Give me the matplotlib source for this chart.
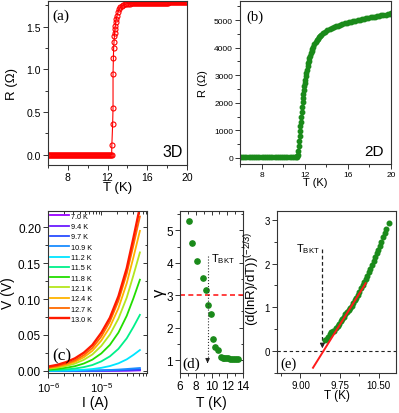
import matplotlib
matplotlib.use("Agg")
import matplotlib.pyplot as plt
from matplotlib.ticker import MultipleLocator, LogLocator, NullFormatter, FixedLocator

plt.rcParams['font.family'] = ['Liberation Sans', 'DejaVu Sans']
plt.rcParams['mathtext.fontset'] = 'custom'
plt.rcParams['mathtext.rm'] = 'Liberation Sans'
plt.rcParams['mathtext.it'] = 'Liberation Sans:italic'

# ---------------- data ----------------
# (a) 3D resistance
T_a = [6.0, 6.1, 6.2, 6.3, 6.4, 6.5, 6.6, 6.7, 6.8, 6.9, 7.0, 7.1, 7.2, 7.3, 7.4, 7.5,
       7.6, 7.7, 7.8, 7.9, 8.0, 8.1, 8.2, 8.3, 8.4, 8.5, 8.6, 8.7, 8.8, 8.9, 9.0, 9.1,
       9.2, 9.3, 9.4, 9.5, 9.6, 9.7, 9.8, 9.9, 10.0, 10.1, 10.2, 10.3, 10.4, 10.5, 10.6,
       10.7, 10.8, 10.9, 11.0, 11.1, 11.2, 11.3, 11.4, 11.5, 11.6, 11.7, 11.8, 11.9, 12.0,
       12.1, 12.2, 12.3, 12.41,
       12.43, 12.51, 12.55, 12.55, 12.58, 12.61, 12.65, 12.68, 12.71, 12.75, 12.78, 12.81,
       12.88, 12.95, 13.05, 13.18, 13.3, 13.42, 13.6, 13.76, 13.9, 14.05, 14.27,
       14.4, 14.5, 14.6, 14.7, 14.8, 14.9, 15.0, 15.1, 15.2, 15.3, 15.4, 15.5,
       15.6, 15.7, 15.8, 15.9, 16.0, 16.1, 16.2, 16.3, 16.4, 16.5, 16.6, 16.7,
       16.8, 16.9, 17.0, 17.1, 17.2, 17.3, 17.4, 17.5, 17.6, 17.7, 17.8, 17.9,
       18.0, 18.1, 18.2, 18.3, 18.4, 18.5, 18.6, 18.7, 18.8, 18.9, 19.0, 19.1,
       19.2, 19.3, 19.4, 19.5, 19.6, 19.7, 19.8, 19.9, 20.0]
R_a = [0.0, 0.0, 0.0, 0.0, 0.0, 0.0, 0.0, 0.0, 0.0, 0.0, 0.0, 0.0, 0.0, 0.0, 0.0, 0.0,
       0.0, 0.0, 0.0, 0.0, 0.0, 0.0, 0.0, 0.0, 0.0, 0.0, 0.0, 0.0, 0.0, 0.0, 0.0, 0.0,
       0.0, 0.0, 0.0, 0.0, 0.0, 0.0, 0.0, 0.0, 0.0, 0.0, 0.0, 0.0, 0.0, 0.0, 0.0,
       0.0, 0.0, 0.0, 0.0, 0.0, 0.0, 0.0, 0.0, 0.0, 0.0, 0.0, 0.0, 0.0, 0.0,
       0.0, 0.0, 0.0, 0.0,
       0.11, 0.355, 0.55, 0.95, 1.13, 1.25, 1.325, 1.39, 1.43, 1.47, 1.51, 1.55,
       1.59, 1.63, 1.67, 1.71, 1.73, 1.74, 1.752, 1.76, 1.765, 1.768, 1.77,
       1.772, 1.773, 1.774, 1.775, 1.776, 1.776, 1.777, 1.777, 1.778, 1.778, 1.778, 1.779,
       1.779, 1.779, 1.78, 1.78, 1.78, 1.78, 1.78, 1.78, 1.78, 1.78, 1.781, 1.781,
       1.781, 1.781, 1.781, 1.781, 1.781, 1.781, 1.782, 1.782, 1.782, 1.782, 1.782, 1.782,
       1.782, 1.782, 1.783, 1.783, 1.783, 1.783, 1.783, 1.783, 1.783, 1.783, 1.784, 1.784,
       1.784, 1.784, 1.784, 1.784, 1.785, 1.785, 1.785, 1.785, 1.785]

# (b) 2D resistance
T_b = [6.0, 6.2, 6.4, 6.6, 6.8, 7.0, 7.2, 7.4, 7.6, 7.8, 8.0, 8.2, 8.4, 8.6, 8.8, 9.0,
       9.2, 9.4, 9.6, 9.8, 10.0, 10.2, 10.4, 10.6, 10.8, 11.0, 11.2, 11.28, 11.32, 11.36,
       11.40, 11.44, 11.48, 11.52, 11.56, 11.60, 11.64, 11.68, 11.72, 11.76, 11.80, 11.84,
       11.88, 11.92, 11.96, 12.00, 12.05, 12.10, 12.15, 12.20, 12.26, 12.32, 12.38, 12.44,
       12.50, 12.57, 12.64, 12.72, 12.80, 12.90, 13.00, 13.10, 13.20, 13.30, 13.40, 13.50,
       13.7, 13.9, 14.1, 14.3, 14.5, 14.7, 14.9, 15.1, 15.3, 15.5, 15.7, 15.9, 16.1, 16.3,
       16.5, 16.7, 16.9, 17.1, 17.3, 17.5, 17.7, 17.9, 18.1, 18.3, 18.5, 18.7, 18.9, 19.1,
       19.3, 19.5, 19.7, 19.9, 20.0]
R_b = [30, 30, 30, 30, 30, 30, 30, 30, 30, 30, 30, 30, 30, 30, 30, 30,
       30, 30, 30, 30, 30, 30, 30, 30, 30, 30, 32, 35, 60, 120,
       250, 430, 600, 780, 960, 1140, 1320, 1500, 1680, 1850, 2020, 2180,
       2330, 2470, 2590, 2700, 2840, 2970, 3090, 3200, 3320, 3430, 3530, 3620,
       3710, 3800, 3880, 3960, 4040, 4120, 4200, 4260, 4320, 4380, 4430, 4470,
       4530, 4580, 4630, 4670, 4710, 4740, 4770, 4800, 4830, 4855, 4880, 4900, 4920, 4940,
       4960, 4980, 5000, 5015, 5030, 5050, 5065, 5080, 5095, 5110, 5125, 5140, 5155, 5170,
       5185, 5200, 5215, 5235, 5250]

# (c) V-I curves
I_c = [1.0e-6, 1.5e-6, 2.2e-6, 3.2e-6, 4.7e-6, 6.8e-6, 1.0e-5, 1.45e-5, 2.1e-5, 3.0e-5, 4.0e-5, 5.3e-5]
temps_c = ['7.0 K', '9.4 K', '9.7 K', '10.9 K', '11.2 K', '11.5 K', '11.8 K',
           '12.1 K', '12.4 K', '12.7 K', '13.0 K']
V_70 = [0, 0, 0, 0.00001, 0.00002, 0.00003, 0.00006, 0.0001, 0.00015, 0.00025, 0.0004, 0.0006]
V_94 = [0, 0.00001, 0.00002, 0.00003, 0.00005, 0.00009, 0.00015, 0.00025, 0.0004, 0.0006, 0.0009, 0.0012]
V_97 = [0.00001, 0.00002, 0.00004, 0.00007, 0.00012, 0.0002, 0.00035, 0.00055, 0.0008, 0.0012, 0.0017, 0.0022]
V_109 = [0.00003, 0.00005, 0.0001, 0.00016, 0.00027, 0.00045, 0.00075, 0.0012, 0.0018, 0.0026, 0.0033, 0.0040]
V_112 = [0.0002, 0.00033, 0.00055, 0.0009, 0.0015, 0.0025, 0.0042, 0.0067, 0.0105, 0.016, 0.0222, 0.029]
V_115 = [0.0008, 0.0013, 0.0020, 0.0032, 0.0052, 0.0081, 0.0132, 0.0202, 0.0307, 0.0453, 0.0611, 0.078]
V_118 = [0.0018, 0.0027, 0.0043, 0.0065, 0.0102, 0.0156, 0.0243, 0.0362, 0.0534, 0.0767, 0.101, 0.127]
V_121 = [0.0030, 0.0045, 0.0068, 0.0101, 0.0154, 0.0228, 0.0347, 0.0506, 0.0729, 0.102, 0.133, 0.165]
V_124 = [0.0038, 0.0056, 0.0085, 0.0125, 0.0189, 0.0279, 0.0422, 0.0611, 0.0874, 0.122, 0.158, 0.195]
V_127 = [0.0045, 0.0066, 0.0099, 0.0145, 0.0218, 0.0319, 0.0478, 0.0688, 0.0978, 0.1357, 0.1749, 0.215]
V_130 = [0.0059, 0.0084, 0.0122, 0.0174, 0.0253, 0.036, 0.053, 0.074, 0.104, 0.143, 0.185, 0.228]
colors_c = ['#9a00ff', '#6a1bff', '#2a4dff', '#1a8cff', '#00e5ff', '#00f08a', '#22dd00',
            '#b4e61e', '#ffb300', '#ff6a00', '#ff1a00']

# (d) gamma vs T
T_d = [7.09, 7.57, 8.1, 8.92, 9.27, 9.54, 9.88, 10.14, 10.5, 10.8, 11.15, 11.4, 11.65,
       11.9, 12.15, 12.4, 12.65, 12.9, 13.15, 13.4]
g_d = [5.28, 4.62, 4.06, 3.52, 3.16, 2.70, 2.41, 1.64, 1.40, 1.30, 1.08, 1.07, 1.06,
       1.05, 1.05, 1.04, 1.04, 1.04, 1.04, 1.04]
T_bkt_d = 9.5

# (e) (dlnR/dT)^(-2/3) vs T
T_e = [9.47, 9.50, 9.53, 9.56, 9.59, 9.62, 9.65, 9.68, 9.71, 9.74, 9.77, 9.80, 9.83,
       9.86, 9.89, 9.92, 9.95, 9.98, 10.01, 10.04, 10.07, 10.10, 10.13, 10.16, 10.19,
       10.22, 10.25, 10.28, 10.31, 10.34, 10.37, 10.40, 10.43, 10.46, 10.49, 10.52,
       10.55, 10.58, 10.61, 10.64, 10.69]
y_e = [0.25, 0.28, 0.32, 0.40, 0.44, 0.45, 0.47, 0.52, 0.58, 0.63, 0.68, 0.73, 0.78,
       0.84, 0.89, 0.94, 0.99, 1.04, 1.10, 1.16, 1.22, 1.29, 1.36, 1.43, 1.50,
       1.57, 1.64, 1.72, 1.80, 1.88, 1.96, 2.05, 2.14, 2.23, 2.32, 2.41,
       2.50, 2.60, 2.70, 2.78, 2.92]
fit_T = [9.24, 10.25]
fit_y = [-0.38, 1.55]
T_bkt_e = 9.42

# ---------------- figure ----------------
W, H = 399, 414
fig = plt.figure(figsize=(W / 100, H / 100), dpi=100)


def rect(l, r, t, b):
    return [l / W, 1 - b / H, (r - l) / W, (b - t) / H]


SP = '#333333'
GREEN = '#1a8a1a'


def style(ax, fs):
    for s in ax.spines.values():
        s.set_color(SP)
        s.set_linewidth(0.8)
    ax.tick_params(which='both', direction='out', colors=SP, labelcolor='black',
                   labelsize=fs, top=False, right=False, width=0.7, pad=1.5)
    ax.tick_params(which='major', length=3.5)
    ax.tick_params(which='minor', length=2)


def mirror(ax, xmaj, xmin, ymaj, ymin, logx=False):
    sx = ax.secondary_xaxis('top')
    sy = ax.secondary_yaxis('right')
    for s in (sx, sy):
        s.tick_params(which='both', direction='in', colors=SP, labelleft=False,
                      labelright=False, labeltop=False, labelbottom=False, width=0.7)
        s.tick_params(which='major', length=3)
        s.tick_params(which='minor', length=1.8)
        for sp in s.spines.values():
            sp.set_visible(False)
    if logx:
        sx.xaxis.set_major_locator(LogLocator(base=10))
        sx.xaxis.set_minor_locator(LogLocator(base=10, subs=range(2, 10)))
    else:
        sx.xaxis.set_major_locator(MultipleLocator(xmaj))
        sx.xaxis.set_minor_locator(MultipleLocator(xmin))
    sx.xaxis.set_major_formatter(NullFormatter())
    sx.xaxis.set_minor_formatter(NullFormatter())
    sy.yaxis.set_major_locator(MultipleLocator(ymaj))
    sy.yaxis.set_minor_locator(MultipleLocator(ymin))
    sy.yaxis.set_major_formatter(NullFormatter())


SERIF = ['Liberation Serif', 'DejaVu Serif']

# ---- (a)
axa = fig.add_axes(rect(48, 187, 2, 166))
style(axa, 7.5)
axa.plot(T_a, R_a, '-', color='red', lw=0.8, marker='o', ms=3.6, mfc='none',
         mec='red', mew=0.8)
axa.set_xlim(6, 20)
axa.set_ylim(-0.12, 1.80)
axa.set_xticks([8, 12, 16, 20])
axa.xaxis.set_minor_locator(MultipleLocator(2))
axa.yaxis.set_major_locator(MultipleLocator(0.5))
axa.yaxis.set_minor_locator(MultipleLocator(0.25))
axa.yaxis.set_major_formatter(matplotlib.ticker.FormatStrFormatter('%.1f'))
axa.set_xlabel('T (K)', fontsize=9.5)
axa.set_ylabel('R (Ω)', fontsize=9.5)
axa.xaxis.set_label_coords(0.5, -0.095)
axa.yaxis.set_label_coords(-0.215, 0.5)
axa.text(0.03, 0.955, '(a)', transform=axa.transAxes, fontsize=11, family=SERIF,
         ha='left', va='top')
axa.text(0.97, 0.035, '3D', transform=axa.transAxes, fontsize=11.5, ha='right',
         va='bottom')

# ---- (b)
axb = fig.add_axes(rect(240, 391, 2, 165))
style(axb, 6)
axb.plot(T_b, R_b, 'o', color=GREEN, ms=3.2, mec=GREEN)
axb.set_xlim(6, 20)
axb.set_ylim(-220, 5690)
axb.set_xticks([8, 12, 16, 20])
axb.xaxis.set_minor_locator(MultipleLocator(2))
axb.yaxis.set_major_locator(MultipleLocator(1000))
axb.yaxis.set_minor_locator(MultipleLocator(500))
axb.set_xlabel('T (K)', fontsize=8)
axb.set_ylabel('R (Ω)', fontsize=8)
axb.xaxis.set_label_coords(0.5, -0.08)
axb.yaxis.set_label_coords(-0.215, 0.5)
axb.text(0.045, 0.95, '(b)', transform=axb.transAxes, fontsize=10.5, family=SERIF,
         ha='left', va='top')
axb.text(0.95, 0.035, '2D', transform=axb.transAxes, fontsize=11, ha='right',
         va='bottom')

# ---- (c)
axc = fig.add_axes(rect(48, 147, 212, 374))
style(axc, 8.5)
series_c = [V_70, V_94, V_97, V_109, V_112, V_115, V_118, V_121, V_124, V_127, V_130]
for lab, V, col in zip(temps_c, series_c, colors_c):
    axc.plot(I_c, V, '-', color=col, lw=1.3 if lab != '13.0 K' else 1.7, label=lab)
axc.set_xscale('log')
axc.set_xlim(1e-6, 7.2e-5)
axc.set_ylim(-0.003, 0.2227)
axc.xaxis.set_major_locator(LogLocator(base=10))
axc.xaxis.set_minor_locator(LogLocator(base=10, subs=range(2, 10)))
axc.xaxis.set_minor_formatter(NullFormatter())
axc.tick_params(axis='x', labelsize=8)
axc.yaxis.set_major_locator(MultipleLocator(0.05))
axc.yaxis.set_minor_locator(MultipleLocator(0.025))
axc.yaxis.set_major_formatter(matplotlib.ticker.FormatStrFormatter('%.2f'))
mirror(axc, None, None, 0.05, 0.025, logx=True)
axc.set_xlabel('I (A)', fontsize=10)
axc.set_ylabel('V (V)', fontsize=10)
axc.xaxis.set_label_coords(0.48, -0.135)
axc.yaxis.set_label_coords(-0.335, 0.5)
leg = axc.legend(loc='upper left', frameon=False, fontsize=5.2, handlelength=2.6,
                 handletextpad=0.3, labelspacing=0.45, borderaxespad=0.25,
                 borderpad=0.0)
axc.text(0.04, 0.06, '(c)', transform=axc.transAxes, fontsize=12.5, family=SERIF,
         ha='left', va='bottom')

# ---- (d)
axd = fig.add_axes(rect(180, 243, 212, 374))
style(axd, 8.5)
axd.plot(T_d, g_d, 'o', color=GREEN, ms=3.8, mec=GREEN)
axd.set_xlim(6, 14)
axd.set_ylim(0.6, 5.6)
axd.xaxis.set_major_locator(MultipleLocator(2))
axd.xaxis.set_minor_locator(MultipleLocator(1))
axd.yaxis.set_major_locator(MultipleLocator(1))
axd.yaxis.set_minor_locator(MultipleLocator(0.5))
mirror(axd, 2, 1, 1, 0.5)
axd.axhline(3, color='#ff2020', lw=1.2, ls=(0, (3, 2)))
axd.plot([T_bkt_d, T_bkt_d], [4.2, 1.0], color='#333333', lw=0.8, ls=':')
axd.annotate('', xy=(T_bkt_d, 0.82), xytext=(T_bkt_d, 1.05),
             arrowprops=dict(arrowstyle='-|>', color='#222222', lw=0.8,
                             mutation_scale=6))
axd.text(9.9, 3.93, r'T$_{\mathregular{BKT}}$', fontsize=8, ha='left', va='bottom')
axd.set_xlabel('T (K)', fontsize=10)
axd.set_ylabel('γ', fontsize=12)
axd.xaxis.set_label_coords(0.5, -0.135)
axd.yaxis.set_label_coords(-0.2, 0.5)
axd.text(0.03, 0.02, '(d)', transform=axd.transAxes, fontsize=11, family=SERIF,
         ha='left', va='bottom')

# ---- (e)
axe = fig.add_axes(rect(277, 396, 212, 374))
style(axe, 7)
axe.axhline(0, color='#222222', lw=0.8, ls=(0, (3, 2.5)))
axe.plot(T_e, y_e, 'o', color=GREEN, ms=3.3, mec=GREEN, zorder=3)
axe.plot(fit_T, fit_y, '-', color='#ff1a1a', lw=1.4, zorder=4)
axe.plot([T_bkt_e, T_bkt_e], [2.34, 0.15], color='#222222', lw=0.9, ls=(0, (3, 2)))
axe.annotate('', xy=(T_bkt_e, 0.0), xytext=(T_bkt_e, 0.2),
             arrowprops=dict(arrowstyle='-|>', color='#222222', lw=0.8,
                             mutation_scale=7))
axe.text(8.91, 2.2, r'T$_{\mathregular{BKT}}$', fontsize=8, ha='left', va='bottom')
axe.set_xlim(8.55, 10.83)
axe.set_ylim(-0.5, 3.2)
axe.set_xticks([9.0, 9.75, 10.5])
axe.xaxis.set_minor_locator(FixedLocator([8.625, 9.375, 10.125]))
axe.xaxis.set_major_formatter(matplotlib.ticker.FormatStrFormatter('%.2f'))
axe.yaxis.set_major_locator(MultipleLocator(1))
axe.yaxis.set_minor_locator(MultipleLocator(0.5))
axe.set_xlabel('T (K)', fontsize=8.5)
axe.set_ylabel(r'(d(lnR)/dT))$^{\mathregular{(-2/3)}}$', fontsize=9.5)
axe.xaxis.set_label_coords(0.5, -0.1)
axe.yaxis.set_label_coords(-0.125, 0.59)
axe.text(0.03, 0.02, '(e)', transform=axe.transAxes, fontsize=10.5, family=SERIF,
         ha='left', va='bottom')

fig.savefig('out.png', dpi=100)
